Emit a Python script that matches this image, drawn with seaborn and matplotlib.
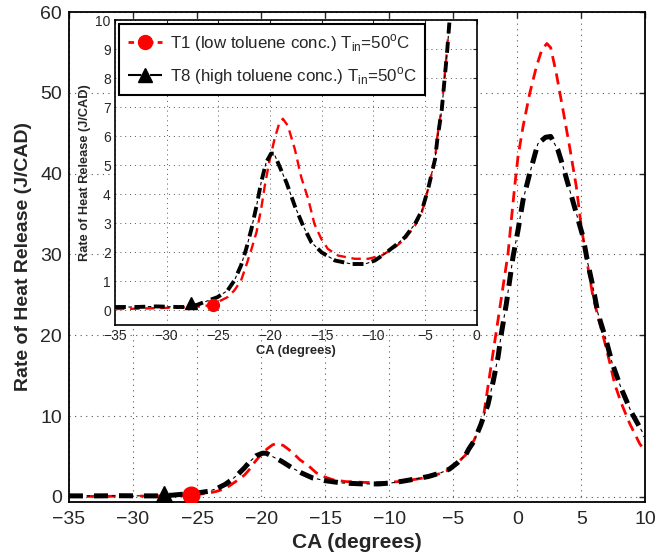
import numpy as np
import pandas as pd
import seaborn as sns
import matplotlib.pyplot as plt
from matplotlib.lines import Line2D

# T1 (low toluene conc.) - red dashed
t1_ca = [-35, -33, -31, -29, -27, -26, -25, -24.1, -23.45, -22.8, -22.3, -21.8, -21.3,
         -20.85, -20.5, -20.05, -19.56, -19.1, -18.75, -18.27, -17.6, -16.97, -16.3,
         -15.7, -15.03, -14.4, -13.4, -11.8, -10.5, -9.2, -7.9, -6.94, -5.97, -5.3,
         -4.7, -4.03, -3.8, -3.38, -3.12, -2.86, -2.64, -2.3, -1.9, -1.51, -1.12,
         -0.73, -0.47, -0.21, 0.05, 0.44, 0.96, 1.48, 1.9, 2.3, 2.6, 3.04, 3.56, 4.08,
         4.6, 4.99, 5.5, 5.9, 6.42, 6.81, 7.2, 7.59, 8.11, 8.76, 9.54, 10]
t1_hrr = [0.05, 0.06, 0.08, 0.1, 0.13, 0.17, 0.3, 0.46, 0.69, 1.03, 1.55, 2.1, 2.7,
          3.5, 4.3, 5.15, 5.9, 6.45, 6.6, 6.36, 5.56, 4.58, 3.84,
          2.98, 2.46, 2.12, 1.89, 1.78, 1.78, 1.89, 2.18, 2.46, 2.92, 3.38,
          4.18, 5.2, 6.0, 7.0, 8.0, 9.0, 10.0, 13.6, 17.8, 21.9, 26.0,
          30.1, 34.3, 38.4, 42.1, 45.8, 49.9, 53.2, 55.3, 56.1, 55.6, 52.4, 47.9, 43.3,
          38.4, 33.4, 28.5, 24.8, 21.5, 19.2, 16.7, 14.0, 11.6, 9.1, 6.6, 5.6]

# T8 (high toluene conc.) - black dash-dot
t8_ca = [-35, -33, -31, -29, -28, -27, -26.36, -25.07, -24.1, -23.45, -22.8, -22.3,
         -21.8, -21.3, -20.86, -20.37, -19.9, -19.6, -19.1, -18.4, -17.6, -16.8, -16.0,
         -15.0, -13.7, -12.1, -10.8, -9.85, -8.9, -7.9, -6.94, -5.97, -5.3, -4.7, -4.03,
         -3.8, -3.38, -3.12, -2.86, -2.64, -2.3, -1.9, -1.51, -1.25, -0.86, -0.6, -0.34,
         0.05, 0.44, 0.96, 1.6, 2.2, 2.6, 3.17, 3.56, 4.08, 4.6, 5.12, 5.5, 5.9, 6.29,
         6.89, 7.41, 8.11, 8.89, 9.8, 10]
t8_hrr = [0.12, 0.12, 0.14, 0.12, 0.12, 0.2, 0.29, 0.46, 0.69, 1.03, 1.55, 2.12,
          2.8, 3.6, 4.4, 5.1, 5.4, 5.4, 4.98, 4.4, 3.6, 2.92, 2.35,
          2.0, 1.72, 1.6, 1.6, 1.72, 1.95, 2.23, 2.52, 2.98, 3.44, 4.18, 5.2,
          5.9, 6.9, 7.9, 8.9, 9.9, 11.4, 14.2, 17.3, 20.2, 23.9, 26.8, 29.7,
          33.0, 36.7, 40.0, 43.7, 44.5, 44.6, 42.9, 40.9, 38.0, 35.1, 32.2, 28.9, 26.0, 22.7,
          19.6, 16.5, 13.4, 10.5, 7.9, 7.6]

# marker positions
t1_mark = (-25.5, 0.2)
t8_mark = (-27.6, 0.25)

labels = ['T1 (low toluene conc.) T$_{\\mathrm{in}}$=50$^{\\mathrm{o}}$C',
          'T8 (high toluene conc.) T$_{\\mathrm{in}}$=50$^{\\mathrm{o}}$C']

df1 = pd.DataFrame({'CA': t1_ca, 'HRR': t1_hrr})
df8 = pd.DataFrame({'CA': t8_ca, 'HRR': t8_hrr})

sns.set_style('white')
plt.rcParams['font.family'] = ['Liberation Sans', 'DejaVu Sans']
plt.rcParams['mathtext.fontset'] = 'custom'
plt.rcParams['mathtext.rm'] = 'Liberation Sans'
plt.rcParams['xtick.direction'] = 'in'
plt.rcParams['ytick.direction'] = 'in'

fig = plt.figure(figsize=(6.6, 5.59), dpi=100)
ax = fig.add_axes([0.1045, 0.1025, 0.8735, 0.876])
ins = fig.add_axes([0.1742, 0.4186, 0.548, 0.5456])


def draw(a, red_lw, blk_lw, ms_c, ms_t):
    sns.lineplot(data=df1, x='CA', y='HRR', ax=a, color='red', lw=red_lw,
                 linestyle=(0, (4, 2.4)), sort=False, zorder=3)
    # thick dashes + thin dots for the dash-dot black line
    sns.lineplot(data=df8, x='CA', y='HRR', ax=a, color='black', lw=blk_lw,
                 linestyle=(0, (2.8, 2.2)), sort=False, zorder=4)
    thin = 0.8
    period = 5.0 * blk_lw
    on = 2.5
    off = period - on
    offs = period - (2.8 * blk_lw + 2.2 * blk_lw / 2 - on / 2)
    sns.lineplot(data=df8, x='CA', y='HRR', ax=a, color='black', lw=thin,
                 linestyle=(offs / thin, (on / thin, off / thin)), sort=False, zorder=4)
    a.plot(*t1_mark, marker='o', color='red', ms=ms_c, zorder=6)
    a.plot(*t8_mark, marker='^', color='black', ms=ms_t, zorder=6)


draw(ax, 2.0, 3.6, 12, 13)
ax.set_xlim(-35, 10)
ax.set_ylim(-0.6, 60)
ax.set_xticks(np.arange(-35, 11, 5))
ax.set_yticks(np.arange(0, 61, 10))
ax.tick_params(labelsize=14, length=4, width=1, top=True, right=True)
ax.tick_params(axis='x', pad=7)
ax.tick_params(axis='y', pad=5)
ax.grid(True, linestyle=(0, (1, 4)), color='#555555', lw=0.8)
ax.set_xlabel('CA (degrees)', fontsize=15, fontweight='bold', labelpad=3)
ax.set_ylabel('Rate of Heat Release (J/CAD)', fontsize=14, fontweight='bold', labelpad=6)
for s in ax.spines.values():
    s.set_linewidth(1.3)
    s.set_color('black')

draw(ins, 1.7, 2.8, 8.5, 9)
ins.set_xlim(-35, 0)
ins.set_ylim(-0.5, 10)
ins.set_xticks(np.arange(-35, 1, 5))
ins.set_yticks(np.arange(0, 11, 1))
ins.tick_params(labelsize=10, length=3, width=0.8, top=True, right=True, pad=3)
ins.grid(True, linestyle=(0, (1, 4)), color='#555555', lw=0.7)
ins.set_xlabel('CA (degrees)', fontsize=9.3, fontweight='bold', labelpad=1)
ins.set_ylabel('Rate of Heat Release (J/CAD)', fontsize=9.2, fontweight='bold', labelpad=3)
ins.set_facecolor('white')
for s in ins.spines.values():
    s.set_linewidth(1.2)
    s.set_color('black')

handles = [Line2D([], [], color='red', linestyle=(0, (2, 1.5)), lw=2, marker='o', ms=10),
           Line2D([], [], color='black', linestyle='-.', lw=1.5, marker='^', ms=10)]
leg = ins.legend(handles, labels, loc='upper left', bbox_to_anchor=(0.012, 0.988),
                 borderaxespad=0, fontsize=12.2, frameon=True, fancybox=False,
                 handlelength=2.0, handletextpad=0.5, borderpad=0.5, labelspacing=0.65)
leg.get_frame().set_edgecolor('black')
leg.get_frame().set_linewidth(1.5)
leg.get_frame().set_alpha(1)

fig.savefig('out.png', dpi=100)
